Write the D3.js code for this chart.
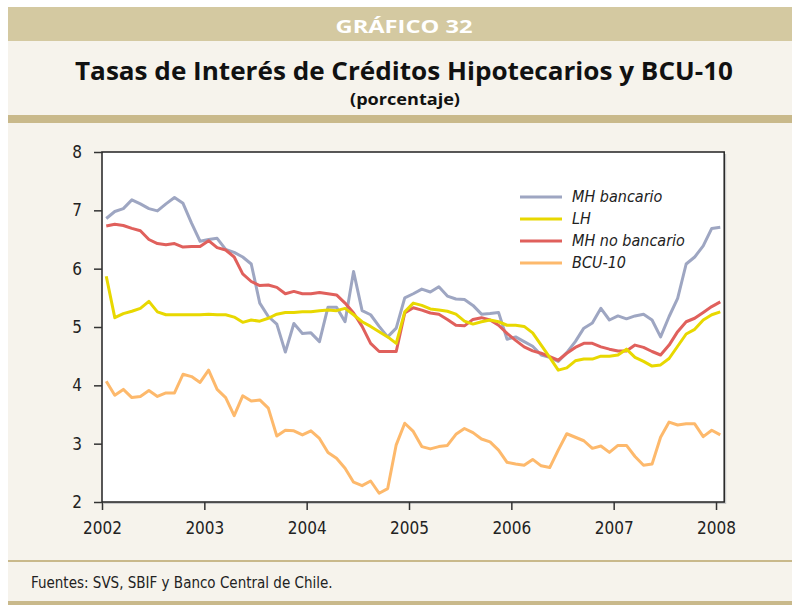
<!DOCTYPE html>
<html>
<head>
<meta charset="utf-8">
<script src="https://cdn.jsdelivr.net/npm/d3@7"></script>
<style>
  body { margin: 0; background: #fff; }
  svg { display: block; }
  .cond { font-family: 'Liberation Sans Narrow', 'DejaVu Sans Condensed', 'Open Sans', sans-serif; }
</style>
</head>
<body>
<svg id="chart"></svg>
<script>
// monthly observations, Jan 2002 .. Jan 2008
const startYear = 2002;
const nMonths = 73;
const months = d3.range(nMonths).map(i => startYear + (i + 0.5) / 12);

const mhBancario = [
  6.86, 6.98, 7.03, 7.18, 7.11, 7.03, 6.99, 7.11, 7.22, 7.12, 6.78, 6.47,
  6.50, 6.52, 6.33, 6.28, 6.20, 6.08, 5.41, 5.18, 5.05, 4.57, 5.06, 4.89,
  4.90, 4.75, 5.34, 5.34, 5.09, 5.95, 5.28, 5.21, 5.01, 4.83, 4.98, 5.50,
  5.57, 5.65, 5.60, 5.69, 5.53, 5.48, 5.47, 5.37, 5.22, 5.23, 5.25, 4.79,
  4.83, 4.75, 4.67, 4.52, 4.48, 4.41, 4.56, 4.75, 4.98, 5.07, 5.32, 5.12,
  5.19, 5.14, 5.19, 5.22, 5.12, 4.83, 5.18, 5.49, 6.08, 6.20, 6.39, 6.69,
  6.71
];
const lh = [
  5.87, 5.16, 5.23, 5.27, 5.32, 5.44, 5.26, 5.21, 5.21, 5.21, 5.21, 5.21,
  5.22, 5.21, 5.21, 5.17, 5.08, 5.12, 5.10, 5.15, 5.22, 5.25, 5.25, 5.26,
  5.26, 5.28, 5.29, 5.28, 5.32, 5.21, 5.09, 5.01, 4.92, 4.83, 4.72, 5.26,
  5.41, 5.37, 5.31, 5.29, 5.27, 5.22, 5.10, 5.05, 5.09, 5.12, 5.09, 5.03,
  5.03, 5.01, 4.90, 4.69, 4.48, 4.26, 4.30, 4.42, 4.45, 4.45, 4.50, 4.50,
  4.52, 4.62, 4.48, 4.41, 4.33, 4.35, 4.46, 4.67, 4.88, 4.96, 5.12, 5.21,
  5.26
];
const mhNoBancario = [
  6.73, 6.76, 6.74, 6.69, 6.65, 6.50, 6.43, 6.41, 6.43, 6.37, 6.38, 6.38,
  6.48, 6.36, 6.32, 6.20, 5.91, 5.78, 5.71, 5.72, 5.68, 5.57, 5.61, 5.57,
  5.57, 5.59, 5.57, 5.55, 5.41, 5.24, 5.01, 4.72, 4.58, 4.58, 4.58, 5.24,
  5.33, 5.29, 5.24, 5.22, 5.13, 5.03, 5.02, 5.13, 5.16, 5.12, 5.03, 4.89,
  4.77, 4.66, 4.59, 4.55, 4.49, 4.43, 4.55, 4.65, 4.72, 4.72, 4.66, 4.62,
  4.59, 4.59, 4.69, 4.65, 4.58, 4.52, 4.69, 4.92, 5.09, 5.15, 5.25, 5.35,
  5.43
];
const bcu10 = [
  4.07, 3.83, 3.93, 3.79, 3.81, 3.91, 3.81, 3.87, 3.87, 4.19, 4.15, 4.05,
  4.26, 3.93, 3.79, 3.48, 3.82, 3.73, 3.75, 3.61, 3.13, 3.23, 3.22, 3.15,
  3.22, 3.09, 2.85, 2.75, 2.58, 2.34, 2.28, 2.36, 2.15, 2.23, 2.98, 3.35,
  3.21, 2.95, 2.91, 2.95, 2.97, 3.16, 3.26, 3.19, 3.08, 3.03, 2.89, 2.68,
  2.65, 2.63, 2.73, 2.62, 2.59, 2.89, 3.17, 3.11, 3.05, 2.92, 2.96, 2.85,
  2.97, 2.97, 2.78, 2.63, 2.65, 3.11, 3.37, 3.32, 3.34, 3.34, 3.12, 3.23,
  3.15
];

const seriesNames = ['MH bancario', 'LH', 'MH no bancario', 'BCU-10'];
const seriesValues = [mhBancario, lh, mhNoBancario, bcu10];
const seriesColors = ['#9ea6c2', '#e8d800', '#e0605c', '#fdb96c'];
// draw order: BCU, MH bancario, LH, MH no bancario on top
const drawOrder = [3, 0, 2, 1];

const yearTicks = [2002, 2003, 2004, 2005, 2006, 2007, 2008];
const valueTicks = [2, 3, 4, 5, 6, 7, 8];

const W = 792, H = 605;
const svg = d3.select('#chart').attr('width', W).attr('height', H);

// frame / bands
svg.append('rect').attr('x', 8).attr('y', 7).attr('width', W - 8).attr('height', H - 7).attr('fill', '#f6f3ec');
svg.append('rect').attr('x', 8).attr('y', 7).attr('width', W - 8).attr('height', 34).attr('fill', '#d4c9a1');
svg.append('rect').attr('x', 8).attr('y', 115).attr('width', W - 8).attr('height', 8).attr('fill', '#c9b98b');
svg.append('rect').attr('x', 8).attr('y', 560).attr('width', W - 8).attr('height', 2).attr('fill', '#c9b98b');
svg.append('rect').attr('x', 8).attr('y', 601).attr('width', W - 8).attr('height', 4).attr('fill', '#c9b98b');

svg.append('text')
  .attr('x', 404).attr('y', 33)
  .attr('text-anchor', 'middle')
  .attr('fill', '#fff')
  .style('font-family', "'Open Sans', sans-serif")
  .style('font-weight', 700)
  .style('font-size', '18px')
  .attr('textLength', 137).attr('lengthAdjust', 'spacingAndGlyphs')
  .text('GRÁFICO 32');

svg.append('text')
  .attr('x', 404).attr('y', 80)
  .attr('text-anchor', 'middle')
  .attr('fill', '#111')
  .style('font-family', "'Open Sans', sans-serif")
  .style('font-weight', 700)
  .style('font-size', '25px')
  .attr('textLength', 658).attr('lengthAdjust', 'spacingAndGlyphs')
  .text('Tasas de Interés de Créditos Hipotecarios y BCU-10');

svg.append('text')
  .attr('x', 405).attr('y', 105)
  .attr('text-anchor', 'middle')
  .attr('fill', '#111')
  .style('font-family', "'Open Sans', sans-serif")
  .style('font-weight', 700)
  .style('font-size', '16px')
  .attr('textLength', 110).attr('lengthAdjust', 'spacingAndGlyphs')
  .text('(porcentaje)');

// scales
const x = d3.scaleLinear().domain([2002, 2008.08]).range([102, 724.2]);
const y = d3.scaleLinear().domain([2, 8]).range([502, 152]);

// plot background with a faint shadow
svg.append('rect')
  .attr('x', x(2002) + 2).attr('y', y(8) + 2)
  .attr('width', x(2008.08) - x(2002)).attr('height', y(2) - y(8))
  .attr('fill', '#c8c8c8');
svg.append('rect')
  .attr('x', x(2002)).attr('y', y(8))
  .attr('width', x(2008.08) - x(2002)).attr('height', y(2) - y(8))
  .attr('fill', '#fff');

const line = d3.line()
  .x((d, i) => x(months[i]))
  .y(d => y(d));

drawOrder.forEach(k => {
  svg.append('path')
    .datum(seriesValues[k])
    .attr('d', line)
    .attr('fill', 'none')
    .attr('stroke', seriesColors[k])
    .attr('stroke-width', 3)
    .attr('stroke-linejoin', 'round');
});

// border
svg.append('rect')
  .attr('x', x(2002)).attr('y', y(8))
  .attr('width', x(2008.08) - x(2002)).attr('height', y(2) - y(8))
  .attr('fill', 'none').attr('stroke', '#222').attr('stroke-width', 1.5);

// axes
const xAxis = svg.append('g')
  .attr('transform', `translate(0,${y(2)})`)
  .call(d3.axisBottom(x).tickValues(yearTicks).tickFormat(d3.format('d')).tickSize(8).tickPadding(12));
const yAxis = svg.append('g')
  .attr('transform', `translate(${x(2002)},0)`)
  .call(d3.axisLeft(y).tickValues(valueTicks).tickFormat(d3.format('d')).tickSize(8).tickPadding(12));

[xAxis, yAxis].forEach(ax => {
  ax.select('.domain').remove();
  ax.selectAll('line').attr('stroke', '#333').attr('stroke-width', 1.5);
  ax.selectAll('text')
    .attr('class', 'cond')
    .attr('fill', '#222')
    .style('font-size', '17px');
});

// legend
const legend = svg.append('g').attr('transform', 'translate(520,197)');
seriesNames.forEach((name, k) => {
  const g = legend.append('g').attr('transform', `translate(0,${k * 22})`);
  g.append('line')
    .attr('x1', 0).attr('x2', 42)
    .attr('stroke', seriesColors[k]).attr('stroke-width', 3);
  g.append('text')
    .attr('x', 52).attr('y', 5)
    .attr('class', 'cond')
    .style('font-size', '16px')
    .style('font-style', 'italic')
    .attr('fill', '#222')
    .text(name);
});

// source note
svg.append('text')
  .attr('x', 31).attr('y', 588)
  .attr('class', 'cond')
  .style('font-size', '15px')
  .attr('fill', '#222')
  .text('Fuentes: SVS, SBIF y Banco Central de Chile.');
</script>
</body>
</html>
